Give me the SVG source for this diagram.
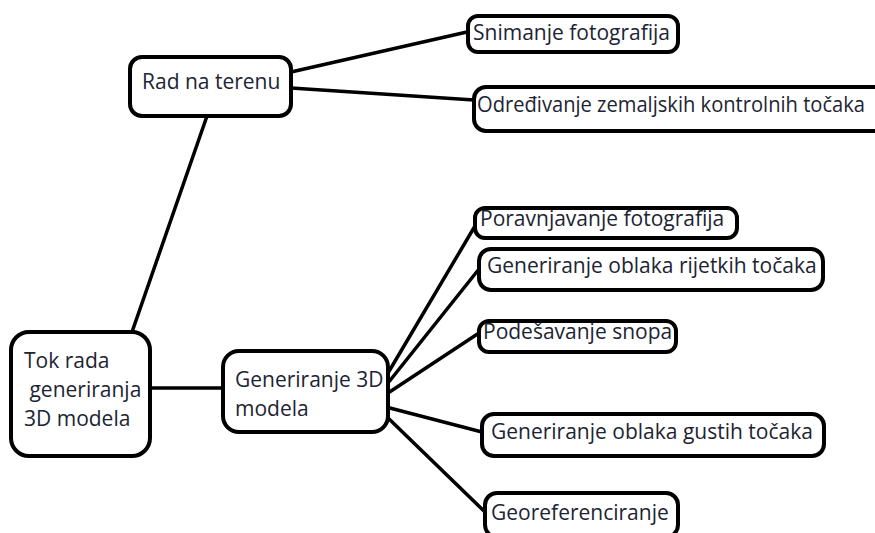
<svg xmlns="http://www.w3.org/2000/svg" width="875" height="533" viewBox="0 0 875 533">
<style>
.box{fill:#fff;stroke:#000;stroke-width:4}
.lbl{font-family:"Open Sans","Noto Sans",sans-serif;font-size:21px;fill:#1c2433}
.con line{stroke:#000;stroke-width:3.5;stroke-linecap:round}
</style>
<rect width="875" height="533" fill="#fff"/>
<g class="con" id="connectors">
<line x1="207" y1="116" x2="132" y2="332"/>
<line x1="291" y1="72" x2="467" y2="32"/>
<line x1="291" y1="88" x2="474" y2="100"/>
<line x1="150" y1="388" x2="223" y2="388"/>
<line x1="388" y1="373" x2="475" y2="226"/>
<line x1="388" y1="383" x2="479" y2="269"/>
<line x1="388" y1="393" x2="479" y2="333"/>
<line x1="386" y1="407" x2="482" y2="432"/>
<line x1="386" y1="416" x2="485" y2="512"/>
</g>
<g id="n-rad">
<rect class="box" x="130" y="57" width="161" height="59" rx="12"/>
<text class="lbl" x="142" y="89">Rad na terenu</text>
</g>
<g id="n-snimanje">
<rect class="box" x="468" y="16" width="210" height="36" rx="10"/>
<text class="lbl" x="473" y="40">Snimanje fotografija</text>
</g>
<g id="n-odredivanje">
<rect class="box" x="474" y="87" width="420" height="44" rx="12"/>
<text class="lbl" x="477" y="112" textLength="388" lengthAdjust="spacingAndGlyphs">Određivanje zemaljskih kontrolnih točaka</text>
</g>
<g id="n-tok">
<rect class="box" x="11" y="332" width="139" height="124" rx="18"/>
<text class="lbl" x="24" y="368">Tok rada</text>
<text class="lbl" x="24" y="397" xml:space="preserve"> generiranja</text>
<text class="lbl" x="24" y="426">3D modela</text>
</g>
<g id="n-gen3d">
<rect class="box" x="223" y="351" width="165" height="81" rx="16"/>
<text class="lbl" x="235" y="387">Generiranje 3D</text>
<text class="lbl" x="235" y="416">modela</text>
</g>
<g id="n-poravnjavanje">
<rect class="box" x="475" y="208" width="262" height="30" rx="10"/>
<text class="lbl" x="480" y="226">Poravnjavanje fotografija</text>
</g>
<g id="n-rijetkih">
<rect class="box" x="479" y="249" width="344" height="41" rx="12"/>
<text class="lbl" x="487" y="273">Generiranje oblaka rijetkih točaka</text>
</g>
<g id="n-snopa">
<rect class="box" x="479" y="321" width="197" height="31" rx="10"/>
<text class="lbl" x="483" y="339">Podešavanje snopa</text>
</g>
<g id="n-gustih">
<rect class="box" x="482" y="414" width="342" height="42" rx="12"/>
<text class="lbl" x="491" y="439">Generiranje oblaka gustih točaka</text>
</g>
<g id="n-georef">
<rect class="box" x="485" y="493" width="193" height="44" rx="12"/>
<text class="lbl" x="491" y="520">Georeferenciranje</text>
</g>
</svg>
